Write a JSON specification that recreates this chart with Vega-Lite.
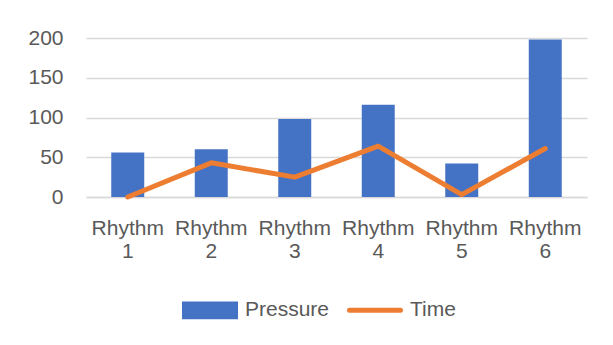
{
  "$schema": "https://vega.github.io/schema/vega-lite/v6.json",
  "width": 501,
  "height": 159,
  "autosize": "none",
  "padding": {"left": 86, "top": 38, "right": 26, "bottom": 148},
  "background": "white",
  "config": {
    "view": {"stroke": null},
    "font": "Liberation Sans",
    "axis": {"labelFont": "Liberation Sans", "labelFontSize": 21, "labelColor": "#595959", "ticks": false, "title": null}
  },
  "data": {
    "values": [
      {"rhythm": "Rhythm 1", "series": "Pressure", "value": 56},
      {"rhythm": "Rhythm 2", "series": "Pressure", "value": 60},
      {"rhythm": "Rhythm 3", "series": "Pressure", "value": 98},
      {"rhythm": "Rhythm 4", "series": "Pressure", "value": 116},
      {"rhythm": "Rhythm 5", "series": "Pressure", "value": 42},
      {"rhythm": "Rhythm 6", "series": "Pressure", "value": 198},
      {"rhythm": "Rhythm 1", "series": "Time", "value": 0},
      {"rhythm": "Rhythm 2", "series": "Time", "value": 43},
      {"rhythm": "Rhythm 3", "series": "Time", "value": 25},
      {"rhythm": "Rhythm 4", "series": "Time", "value": 64},
      {"rhythm": "Rhythm 5", "series": "Time", "value": 3},
      {"rhythm": "Rhythm 6", "series": "Time", "value": 61}
    ]
  },
  "encoding": {
    "x": {
      "field": "rhythm",
      "type": "nominal",
      "sort": null,
      "scale": {"paddingInner": 0.605, "paddingOuter": 0.3025},
      "axis": {
        "labelAngle": 0,
        "labelExpr": "split(datum.label, ' ')",
        "labelLineHeight": 23,
        "labelPadding": 20,
        "labelBaseline": "top",
        "domain": true,
        "domainColor": "#d9d9d9",
        "domainWidth": 1.5,
        "grid": false
      }
    },
    "y": {
      "field": "value",
      "type": "quantitative",
      "scale": {"domain": [0, 200], "nice": false},
      "axis": {
        "values": [0, 50, 100, 150, 200],
        "domain": false,
        "grid": true,
        "gridColor": "#d9d9d9",
        "gridWidth": 1.5,
        "labelPadding": 23
      }
    },
    "color": {
      "field": "series",
      "type": "nominal",
      "scale": {"domain": ["Pressure", "Time"], "range": ["#4472C4", "#ED7D31"]},
      "legend": {
        "title": null,
        "orient": "none",
        "direction": "horizontal",
        "legendX": 96,
        "legendY": 244,
        "labelFont": "Liberation Sans",
        "labelFontSize": 21,
        "labelColor": "#595959",
        "labelOffset": 7,
        "labelBaseline": "middle",
        "columnPadding": 9,
        "symbolSize": 2601,
        "encode": {
          "symbols": {
            "update": {
              "shape": {"signal": "datum.value === 'Time' ? 'M-1,-0.25M-1,0.25M-1,0H1' : 'M-1,-0.25H1V0.25H-1Z'"},
              "fill": {"signal": "datum.value === 'Time' ? 'transparent' : '#4472C4'"},
              "stroke": {"signal": "datum.value === 'Time' ? '#ED7D31' : 'transparent'"},
              "strokeWidth": {"value": 5},
              "strokeCap": {"value": "round"},
              "size": {"value": 2601},
              "opacity": {"value": 1}
            }
          }
        }
      }
    }
  },
  "layer": [
    {
      "transform": [{"filter": "datum.series === 'Pressure'"}],
      "mark": {"type": "bar"}
    },
    {
      "transform": [{"filter": "datum.series === 'Time'"}],
      "mark": {"type": "line", "strokeWidth": 5, "strokeJoin": "round", "strokeCap": "round"}
    }
  ]
}
